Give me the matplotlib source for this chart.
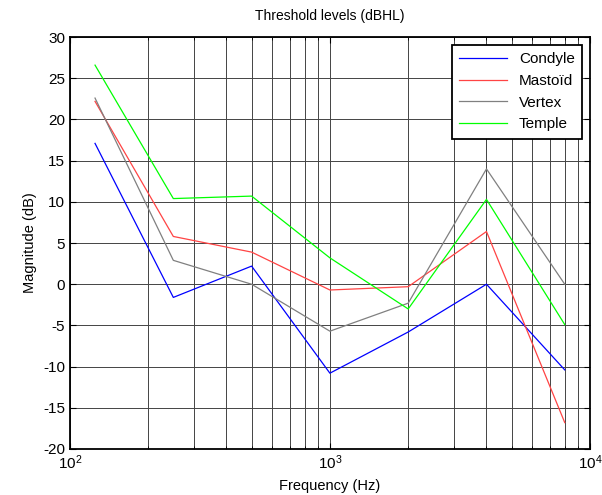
import matplotlib
matplotlib.use("Agg")
import matplotlib.pyplot as plt
from matplotlib.ticker import LogLocator, NullFormatter

plt.rcParams['font.family'] = ['Liberation Sans', 'DejaVu Sans']
plt.rcParams['axes.unicode_minus'] = False

# Frequencies (Hz) and thresholds (dBHL)
freqs = [125, 250, 500, 1000, 2000, 4000, 8000]
condyle = [17.1, -1.6, 2.2, -10.8, -5.8, 0.0, -10.4]
mastoid = [22.2, 5.8, 3.9, -0.7, -0.3, 6.4, -16.8]
vertex = [22.6, 2.9, 0.0, -5.7, -2.3, 14.0, 0.0]
temple = [26.6, 10.4, 10.7, 3.2, -3.0, 10.3, -4.9]

labels = ['Condyle', 'Mastoïd', 'Vertex', 'Temple']
colors = ['#0000ff', '#ff4444', '#808080', '#00ff00']

fig = plt.figure(figsize=(6.02, 4.95), dpi=100)
ax = fig.add_axes([0.116, 0.093, 0.864, 0.832])

for y, lab, c in zip([condyle, mastoid, vertex, temple], labels, colors):
    ax.semilogx(freqs, y, color=c, lw=0.9, label=lab)

ax.set_xlim(100, 10000)
ax.set_ylim(-20, 30)
ax.set_yticks(range(-20, 31, 5))
ax.xaxis.set_minor_locator(LogLocator(base=10, subs=range(2, 10)))
ax.xaxis.set_minor_formatter(NullFormatter())

ax.grid(True, which='major', color='#444444', lw=0.7)
ax.grid(True, which='minor', axis='x', color='#444444', lw=0.7)
ax.tick_params(which='both', direction='in', top=True, right=True, labelsize=11)
ax.tick_params(which='major', length=4)
ax.tick_params(which='minor', length=2)
for s in ax.spines.values():
    s.set_linewidth(1.3)

ax.set_title('Threshold levels (dBHL)', fontsize=10, pad=12)
ax.set_xlabel('Frequency (Hz)', fontsize=10.5, labelpad=5)
ax.set_ylabel('Magnitude (dB)', fontsize=10.5)

leg = ax.legend(loc='upper right', fontsize=11, fancybox=False, framealpha=1,
                edgecolor='black', borderaxespad=0.5, handlelength=3.1,
                labelspacing=0.5, borderpad=0.5)
leg.get_frame().set_linewidth(1.3)

fig.savefig('out.png', dpi=100)
